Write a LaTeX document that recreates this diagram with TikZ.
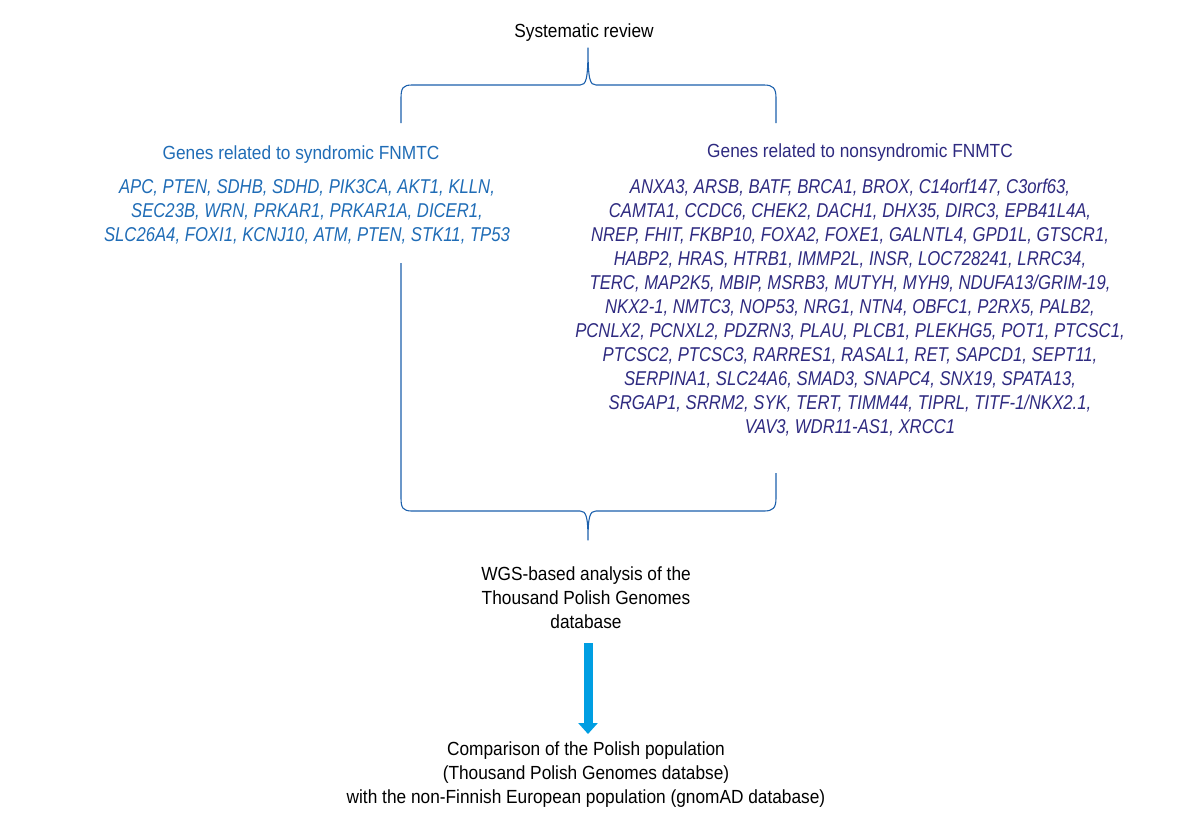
\documentclass[tikz,border=0pt]{standalone}
\usepackage{fontspec}
\setmainfont[FakeStretch=0.91]{Liberation Sans}
\newfontfamily\genefont[FakeStretch=0.835]{Liberation Sans}
\usetikzlibrary{arrows.meta}
\definecolor{synblue}{RGB}{31,108,182}
\definecolor{nonblue}{RGB}{46,42,128}
\definecolor{bracecol}{RGB}{28,96,172}
\definecolor{arrowcol}{RGB}{0,158,226}
\tikzset{
  plain/.style={inner sep=0pt, align=center, text=black, font=\fontsize{19}{24}\selectfont},
  header/.style={inner sep=0pt, align=center, font=\fontsize{19}{24}\selectfont},
  genes/.style={inner sep=0pt, align=center, font=\genefont\itshape\fontsize{20}{24}\selectfont},
  brace/.style={draw=bracecol, line width=1.1pt, line join=round},
  bigarrow/.style={draw=arrowcol, line width=9pt, -{Triangle[width=19pt,length=11pt]}}
}
\begin{document}
\begin{tikzpicture}[x=1pt,y=-1pt]
\useasboundingbox (0,0) rectangle (1198,823);
\node[plain] (sys) at (584,33) {Systematic review};
\node[header, text=synblue] (synh) at (301,155) {Genes related to syndromic FNMTC};
\node[genes, text=synblue] (syng) at (307,212) {APC, PTEN, SDHB, SDHD, PIK3CA, AKT1, KLLN,\\
SEC23B, WRN, PRKAR1, PRKAR1A, DICER1,\\
SLC26A4, FOXI1, KCNJ10, ATM, PTEN, STK11, TP53};
\node[header, text=nonblue] (nonh) at (860,153) {Genes related to nonsyndromic FNMTC};
\node[genes, text=nonblue] (nong) at (850,308) {ANXA3, ARSB, BATF, BRCA1, BROX, C14orf147, C3orf63,\\
CAMTA1, CCDC6, CHEK2, DACH1, DHX35, DIRC3, EPB41L4A,\\
NREP, FHIT, FKBP10, FOXA2, FOXE1, GALNTL4, GPD1L, GTSCR1,\\
HABP2, HRAS, HTRB1, IMMP2L, INSR, LOC728241, LRRC34,\\
TERC, MAP2K5, MBIP, MSRB3, MUTYH, MYH9, NDUFA13/GRIM-19,\\
NKX2-1, NMTC3, NOP53, NRG1, NTN4, OBFC1, P2RX5, PALB2,\\
PCNLX2, PCNXL2, PDZRN3, PLAU, PLCB1, PLEKHG5, POT1, PTCSC1,\\
PTCSC2, PTCSC3, RARRES1, RASAL1, RET, SAPCD1, SEPT11,\\
SERPINA1, SLC24A6, SMAD3, SNAPC4, SNX19, SPATA13,\\
SRGAP1, SRRM2, SYK, TERT, TIMM44, TIPRL, TITF-1/NKX2.1,\\
VAV3, WDR11-AS1, XRCC1};
\node[plain] (wgs) at (586,598) {WGS-based analysis of the\\ Thousand Polish Genomes\\ database};
\node[plain] (comp) at (586,775) {Comparison of the Polish population\\ (Thousand Polish Genomes databse)\\ with the non-Finnish European population (gnomAD database)};
% top brace
\coordinate (tbL) at (401,123);
\coordinate (tbR) at (776,123);
\coordinate (tbA) at (588,48);
\draw[brace] (tbL) -- (401,98) .. controls (401,88) and (403,85) .. (412,85) -- (580,85)
  .. controls (586,85) and (588,80) .. (tbA)
  .. controls (588,80) and (590,85) .. (596,85) -- (764,85)
  .. controls (773,85) and (776,88) .. (776,98) -- (tbR);
% bottom brace
\coordinate (bbL) at (401,263);
\coordinate (bbR) at (776,473);
\coordinate (bbA) at (588,540);
\draw[brace] (bbL) -- (401,498) .. controls (401,508) and (403,511) .. (412,511) -- (580,511)
  .. controls (586,511) and (588,516) .. (bbA)
  .. controls (588,516) and (590,511) .. (596,511) -- (764,511)
  .. controls (773,511) and (776,508) .. (776,498) -- (bbR);
% arrow
\coordinate (arS) at (588,643);
\coordinate (arE) at (588,734);
\draw[bigarrow] (arS) -- (arE);
\end{tikzpicture}
\end{document}
